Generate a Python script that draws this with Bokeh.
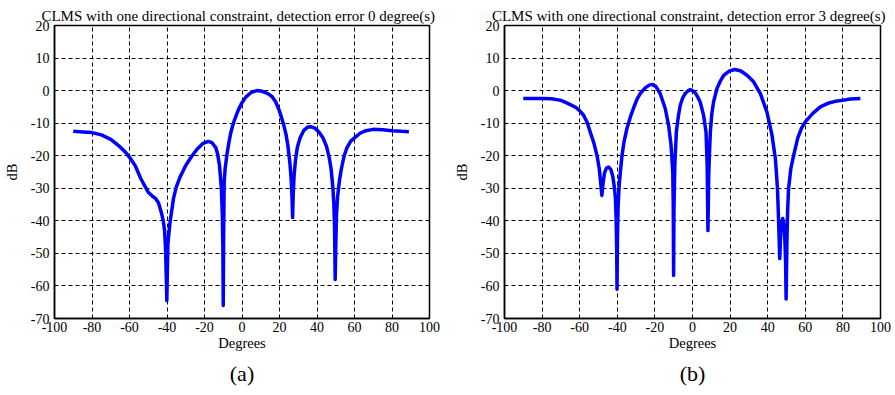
from bokeh.plotting import figure
from bokeh.layouts import row
from bokeh.models import Range1d, Title, FixedTicker, CustomJSTickFormatter
from bokeh.embed import file_html
from bokeh.resources import INLINE

# ---- data: panel (a), detection error 0 degree(s) ----
deg_a = [-90, -85, -80, -75, -70, -65, -62, -60, -57, -54, -51, -50, -48, -46, -44.5, -43,
         -42, -41.3, -40.8, -40.4, -40.1, -39.8, -39.5, -38.5, -37.5, -36.5, -35, -33,
         -30, -27, -24, -21, -18, -16, -14, -13, -12, -11, -10.5, -10.2, -10, -9.8,
         -9.5, -9, -8, -7, -6, -5, -4, -2, 0, 2, 5, 8, 10, 12, 14, 16, 18, 20, 22,
         23.5, 24.5, 25.5, 26.2, 26.7, 27, 27.3, 27.8, 28.5, 29.5, 31, 33, 35, 37, 39,
         41, 43, 45, 46.5, 47.5, 48.5, 49, 49.4, 49.7, 50, 50.4, 51, 52, 53, 54.5, 56,
         58, 60, 63, 66, 70, 75, 80, 85, 89]
db_a = [-12.5, -12.7, -12.9, -13.6, -15.0, -17.3, -19.0, -20.5, -23.0, -27.0, -30.2, -31.2,
        -32.3, -33.2, -34.5, -37.5, -40.0, -43.0, -48.0, -57.0, -64.5, -55.0, -47.0,
        -41.0, -37.0, -33.0, -29.5, -26.5, -23.0, -20.3, -18.0, -16.3, -15.6, -16.0,
        -17.5, -19.5, -23.0, -30.0, -38.0, -48.0, -66.0, -45.0, -28.0, -24.0, -19.5,
        -16.0, -13.0, -10.8, -9.0, -6.0, -3.7, -2.0, -0.5, 0.0, -0.1, -0.5, -1.0,
        -1.8, -3.5, -6.3, -10.0, -13.5, -17.0, -22.0, -27.0, -33.0, -39.0, -32.0,
        -26.0, -21.5, -17.5, -14.5, -12.2, -11.2, -11.1, -11.6, -12.7, -14.3, -17.0,
        -20.5, -24.0, -30.0, -35.0, -43.0, -58.0, -48.0, -38.0, -32.5, -27.5, -24.0,
        -20.0, -17.5, -15.5, -14.5, -13.1, -12.3, -11.9, -12.0, -12.3, -12.5, -12.6]

# ---- data: panel (b), detection error 3 degree(s) ----
deg_b = [-90, -85, -80, -75, -70, -66, -62, -60, -58, -56, -54.4, -52.5, -50.8, -49.6,
         -48.8, -48.2, -47.6, -46.8, -45.8, -44.6, -43.4, -42.4, -41.6, -41, -40.6,
         -40.3, -40.15, -39.9, -39.6, -39, -38.2, -37.5, -36.5, -35.5, -34.9, -33, -31,
         -29.5, -27.8, -25, -23, -21.6, -19.5, -17.2, -14.5, -12.7, -11.4, -10.5, -10.25,
         -10.05, -9.85, -9.4, -8.6, -7.5, -6.5, -5.2, -3.9, -2.5, -1.2, 0, 1.4, 2.8, 4.1,
         5.9, 7.2, 7.8, 8.2, 8.6, 9.0, 9.5, 10.3, 11.2, 13, 14.7, 16.6, 19.5, 22.4, 25.5,
         29, 32.5, 36.1, 39.6, 42.3, 44.1, 45.2, 45.8, 46.4, 46.9, 47.4, 48, 48.6, 49.1,
         49.5, 49.8, 50.2, 50.6, 51.1, 52.3, 53.8, 56, 58, 60, 64, 68, 72, 76, 79.6, 84,
         89.3]
db_b = [-2.4, -2.4, -2.4, -2.5, -3.0, -4.0, -5.2, -6.2, -7.5, -9.8, -12.7, -16.0, -19.9,
        -24.0, -28.5, -32.2, -28.5, -25.3, -23.8, -23.5, -24.3, -26.3, -29.5, -33.0,
        -40.0, -50.0, -61.0, -45.0, -36.0, -29.0, -24.0, -20.0, -16.0, -13.3, -11.7,
        -8.0, -4.8, -2.6, -0.9, 0.9, 1.7, 1.9, 1.3, -0.9, -5.5, -10.7, -16.8, -25.0,
        -35.0, -56.8, -36.0, -23.0, -12.7, -7.8, -4.5, -2.2, -0.9, -0.1, 0.3, 0.0, -0.6,
        -2.0, -3.5, -7.6, -12.7, -23.0, -43.0, -27.0, -19.5, -12.7, -7.0, -3.5, 0.6,
        2.8, 4.7, 6.0, 6.5, 6.1, 4.7, 2.7, -0.9, -6.6, -13.7, -21.0, -30.0, -40.0,
        -51.6, -44.0, -40.5, -39.3, -41.0, -45.5, -52.0, -64.0, -47.0, -37.0, -30.1,
        -24.0, -19.9, -14.5, -11.5, -9.6, -7.0, -5.0, -3.9, -3.3, -3.0, -2.6, -2.4]

x_ticks = [-100, -80, -60, -40, -20, 0, 20, 40, 60, 80, 100]
y_ticks = [-70, -60, -50, -40, -30, -20, -10, 0, 10, 20]

titles = ["CLMS with one directional constraint, detection error  0  degree(s)",
          "CLMS with one directional constraint, detection error  3  degree(s)"]
captions = ["(a)", "(b)"]

FONT = "Liberation Serif"
AXFONT = "'Liberation Serif', serif"


def make_panel(xs, ys, title, caption, width, border_left, border_right):
    p = figure(width=width, height=395, output_backend="svg", toolbar_location=None,
               x_range=Range1d(-100, 100), y_range=Range1d(-70, 20),
               min_border_left=border_left, min_border_right=border_right,
               min_border_top=25, min_border_bottom=77)
    p.title.text = title
    p.title.align = "center"
    p.title.text_font = FONT
    p.title.text_font_size = "15px"
    p.title.text_font_style = "normal"
    p.title.text_color = "black"
    p.title.standoff = 3
    p.title.offset = 0

    p.xaxis.ticker = FixedTicker(ticks=x_ticks)
    p.yaxis.ticker = FixedTicker(ticks=y_ticks)
    for ax in (p.xaxis[0], p.yaxis[0]):
        ax.formatter = CustomJSTickFormatter(code="return tick.toString();")
        ax.major_label_text_font = AXFONT
        ax.major_label_text_font_size = "14px"
        ax.major_label_text_color = "black"
        ax.axis_label_text_font = AXFONT
        ax.axis_label_text_font_size = "14.5px"
        ax.axis_label_text_font_style = "normal"
        ax.axis_label_text_color = "black"
        ax.axis_line_color = "black"
        ax.axis_line_width = 1.5
        ax.major_tick_in = 0
        ax.major_tick_out = 0
        ax.minor_tick_line_color = None
        ax.major_tick_line_color = None
    p.xaxis.axis_label = "Degrees"
    p.yaxis.axis_label = "dB"
    p.xaxis.major_label_standoff = 3
    p.xaxis.axis_label_standoff = 0
    p.yaxis.major_label_standoff = 5
    p.yaxis.axis_label_standoff = 8

    p.xgrid.grid_line_color = "black"
    p.ygrid.grid_line_color = "black"
    p.xgrid.grid_line_dash = "4 3"
    p.ygrid.grid_line_dash = "4 3"
    p.xgrid.grid_line_width = 1
    p.ygrid.grid_line_width = 1
    p.outline_line_color = "black"
    p.outline_line_width = 1.5

    p.line(xs, ys, line_color="#0000ff", line_width=3.5, line_join="round")

    cap = Title(text=caption, align="center", text_font=FONT, text_font_size="22px",
                text_font_style="normal", text_color="black", standoff=10)
    p.add_layout(cap, "below")
    return p


pa = make_panel(deg_a, db_a, titles[0], captions[0], 445, 53, 16)
pb = make_panel(deg_b, db_b, titles[1], captions[1], 450, 59, 15)

layout = row(pa, pb)
open("out.html", "w").write(file_html(layout, INLINE))
